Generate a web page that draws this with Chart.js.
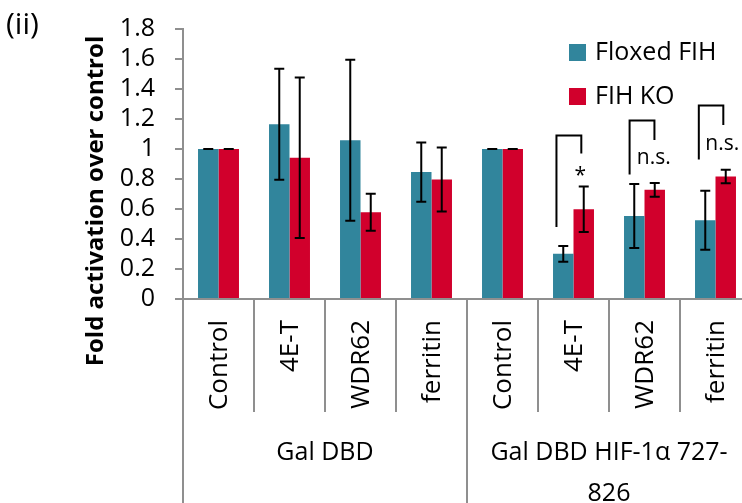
<!DOCTYPE html>
<html><head><meta charset="utf-8">
<script src="https://cdn.jsdelivr.net/npm/chart.js@4.4.1/dist/chart.umd.min.js"></script>
<style>html,body{margin:0;padding:0;overflow:hidden;background:#fff;}</style>
</head><body>
<canvas id="c" width="751" height="503"></canvas>
<script>
// ---- data ----
const categories = ['Control','4E-T','WDR62','ferritin','Control','4E-T','WDR62','ferritin'];
const groupLabels = [['Gal DBD'], ['Gal DBD HIF-1\u03b1 727-','826']];
const groupSizes = [4, 4];
const seriesNames = ['Floxed FIH', 'FIH KO'];
const floxed    = [1.00, 1.165, 1.058, 0.846, 1.00, 0.301, 0.553, 0.525];
const floxedErr = [0.00, 0.370, 0.537, 0.198, 0.00, 0.053, 0.213, 0.196];
const ko        = [1.00, 0.941, 0.578, 0.797, 1.00, 0.598, 0.728, 0.817];
const koErr     = [0.00, 0.535, 0.123, 0.213, 0.00, 0.152, 0.046, 0.045];
const yTickLabels = ['0','0.2','0.4','0.6','0.8','1','1.2','1.4','1.6','1.8'];
// significance annotations (category index, heights in data units)
const sigCats   = [5, 6, 7];
const sigText   = ['*', 'n.s.', 'n.s.'];
const sigTop    = [1.09, 1.19, 1.29];
const sigLeftLo = [0.48, 0.83, 0.93];
const sigRightLo= [0.97, 1.06, 1.16];
const sigTextY  = [0.86, 0.925, 1.02];

const FONT = "'Open Sans', sans-serif";
const TEAL = '#31859C', RED = '#D1002C', AXIS = '#8f8f8f';
const errs = [floxedErr, koErr];

const deco = {
  id: 'deco',
  afterDatasetsDraw(chart) {
    const ctx = chart.ctx, xs = chart.scales.x, ys = chart.scales.y;
    ctx.save();
    // error bars
    ctx.strokeStyle = '#000'; ctx.lineWidth = 2;
    chart.data.datasets.forEach((ds, di) => {
      const meta = chart.getDatasetMeta(di);
      meta.data.forEach((el, i) => {
        const v = ds.data[i], e = errs[di][i];
        const yt = ys.getPixelForValue(v + e), yb = ys.getPixelForValue(v - e);
        const x = el.x;
        ctx.beginPath();
        ctx.moveTo(x, yt); ctx.lineTo(x, yb);
        ctx.moveTo(x - 5, yt); ctx.lineTo(x + 5, yt);
        ctx.moveTo(x - 5, yb); ctx.lineTo(x + 5, yb);
        ctx.stroke();
      });
    });
    // significance brackets
    const cw = xs.getPixelForValue(1) - xs.getPixelForValue(0);
    const leftOff = [-0.24, -0.21, -0.235], rightOff = [0.11, 0.14, 0.11], textOff = [0.095, 0.13, 0.095];
    sigCats.forEach((c, k) => {
      const cx = xs.getPixelForValue(c);
      const xl = cx + leftOff[k] * cw, xr = cx + rightOff[k] * cw;
      ctx.beginPath();
      ctx.moveTo(xl, ys.getPixelForValue(sigLeftLo[k]));
      ctx.lineTo(xl, ys.getPixelForValue(sigTop[k]));
      ctx.lineTo(xr, ys.getPixelForValue(sigTop[k]));
      ctx.lineTo(xr, ys.getPixelForValue(sigRightLo[k]));
      ctx.stroke();
      ctx.fillStyle = '#000';
      ctx.font = '21px ' + FONT;
      ctx.textAlign = 'center'; ctx.textBaseline = 'middle';
      const ty = ys.getPixelForValue(sigTextY[k]);
      ctx.fillText(sigText[k], cx + textOff[k] * cw, sigText[k] === '*' ? ty + 6 : ty - 2);
    });
    ctx.restore();
  },
  afterDraw(chart) {
    const ctx = chart.ctx, xs = chart.scales.x, ca = chart.chartArea;
    const H = chart.height;
    ctx.save();
    // x category labels
    ctx.fillStyle = '#000';
    ctx.font = '26px ' + FONT;
    categories.forEach((lab, i) => {
      const x = xs.getPixelForValue(i);
      ctx.save();
      ctx.translate(x, ca.bottom + 21);
      ctx.rotate(-Math.PI / 2);
      ctx.textAlign = 'right'; ctx.textBaseline = 'middle';
      ctx.fillText(lab, 0, 1);
      ctx.restore();
    });
    // separators
    ctx.strokeStyle = AXIS; ctx.lineWidth = 2;
    const cw = xs.getPixelForValue(1) - xs.getPixelForValue(0);
    let start = 0;
    const bounds = [ca.left];
    groupSizes.forEach(n => {
      for (let j = 1; j < n; j++) {
        const x = Math.round(xs.getPixelForValue(start + j) - cw / 2);
        ctx.beginPath(); ctx.moveTo(x, ca.bottom); ctx.lineTo(x, ca.bottom + 113); ctx.stroke();
      }
      start += n;
      bounds.push(xs.getPixelForValue(start - 1) + cw / 2);
    });
    bounds.forEach(b => {
      const x = Math.round(b);
      ctx.beginPath(); ctx.moveTo(x, ca.bottom); ctx.lineTo(x, H); ctx.stroke();
    });
    // group labels
    ctx.fillStyle = '#000';
    ctx.font = '25px ' + FONT;
    ctx.textAlign = 'center'; ctx.textBaseline = 'alphabetic';
    groupLabels.forEach((lines, g) => {
      const cx = (bounds[g] + bounds[g + 1]) / 2;
      lines.forEach((ln, li) => ctx.fillText(ln, cx, ca.bottom + 161 + li * 41));
    });
    // y title
    ctx.save();
    ctx.translate(96, 201);
    ctx.rotate(-Math.PI / 2);
    ctx.font = 'bold 24px ' + FONT;
    ctx.textAlign = 'center'; ctx.textBaseline = 'middle';
    ctx.fillText('Fold activation over control', 0, 0);
    ctx.restore();
    // panel label
    ctx.font = '30px ' + FONT;
    ctx.textAlign = 'left'; ctx.textBaseline = 'middle';
    ctx.fillText('(ii)', 6, 25);
    // legend
    const cols = [TEAL, RED];
    seriesNames.forEach((nm, k) => {
      const y = 44 + k * 44;
      ctx.fillStyle = cols[k];
      ctx.fillRect(569, y, 17, 17);
      ctx.fillStyle = '#000';
      ctx.font = '25px ' + FONT;
      ctx.textAlign = 'left'; ctx.textBaseline = 'middle';
      ctx.fillText(nm, 595, y + 9);
    });
    ctx.restore();
  }
};

new Chart(document.getElementById('c'), {
  type: 'bar',
  data: {
    labels: categories,
    datasets: [
      { label: seriesNames[0], data: floxed, backgroundColor: TEAL, borderWidth: 0, categoryPercentage: 0.577, barPercentage: 1.0 },
      { label: seriesNames[1], data: ko, backgroundColor: RED, borderWidth: 0, categoryPercentage: 0.577, barPercentage: 1.0 }
    ]
  },
  options: {
    responsive: false,
    animation: false,
    devicePixelRatio: 1,
    layout: { padding: { top: 29, left: 0, right: 0, bottom: 0 } },
    plugins: { legend: { display: false }, tooltip: { enabled: false } },
    scales: {
      x: {
        offset: true,
        grid: { display: false },
        border: { display: true, color: AXIS, width: 2 },
        ticks: { display: false },
        afterFit(s) { s.height = 204; }
      },
      y: {
        min: 0, max: 1.8,
        ticks: {
          stepSize: 0.2,
          autoSkip: false,
          callback: (v, i) => yTickLabels[i],
          font: { family: FONT, size: 25, lineHeight: 0.72 },
          color: '#000',
          padding: 20
        },
        grid: { drawOnChartArea: false, drawTicks: true, tickLength: 8, color: AXIS, lineWidth: 2 },
        border: { display: true, color: AXIS, width: 2 },
        afterFit(s) { s.width = 183; }
      }
    }
  },
  plugins: [deco]
});
</script>
</body></html>
